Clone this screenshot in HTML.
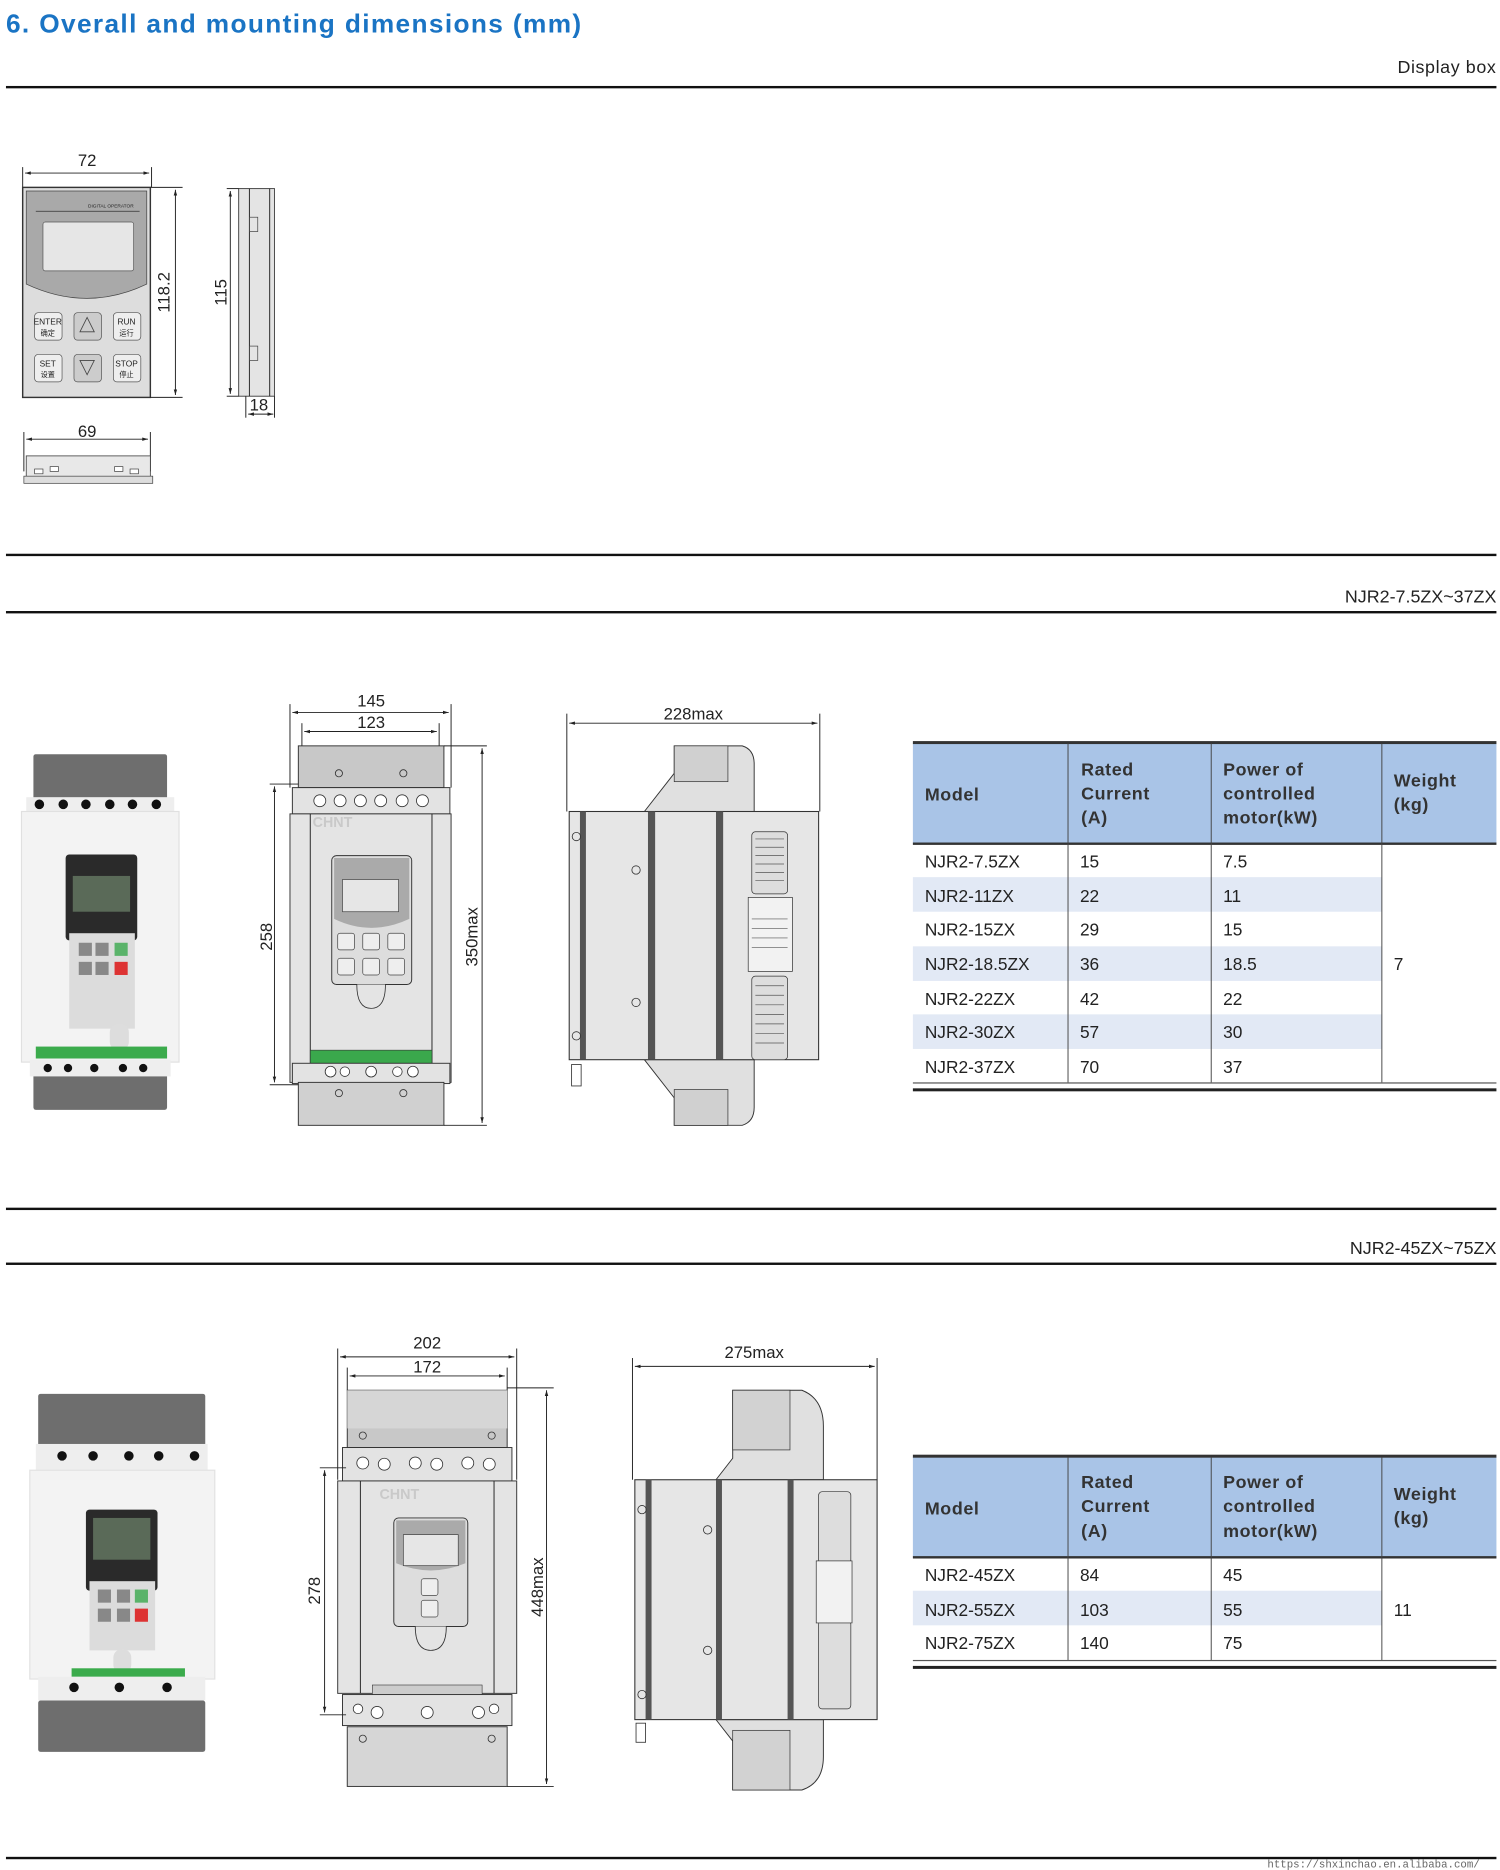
<!DOCTYPE html>
<html><head><meta charset="utf-8"><style>
html,body{margin:0;padding:0;background:#fff;}
svg{display:block;}
text{font-family:"Liberation Sans","Noto Sans CJK SC",sans-serif;}
.d{font-size:14px;fill:#222;}
.t{font-size:14.5px;fill:#222;}
.h{font-size:15px;font-weight:bold;fill:#333;letter-spacing:0.5px;}
.ln{stroke:#222;stroke-width:0.8;fill:none;}
.th{stroke:#444;stroke-width:0.8;}
</style></head><body>
<svg width="1500" height="1870" viewBox="0 0 1257 1567" xmlns="http://www.w3.org/2000/svg">
<defs>
<marker id="a" viewBox="0 0 10 10" refX="10" refY="5" markerWidth="6" markerHeight="6" orient="auto-start-reverse"><path d="M0,2 L10,5 L0,8z" fill="#222"/></marker>
</defs>
<!-- header -->
<text x="5" y="27" style="font-size:22px;font-weight:bold;fill:#1a74c4" textLength="482">6. Overall and mounting dimensions (mm)</text>
<text x="1254" y="61" text-anchor="end" style="font-size:15px;fill:#222;letter-spacing:0.5px">Display box</text>
<rect x="5" y="72" width="1249" height="2" fill="#111"/>
<rect x="5" y="464" width="1249" height="2" fill="#111"/>
<text x="1254" y="505" text-anchor="end" style="font-size:15px;fill:#222">NJR2-7.5ZX~37ZX</text>
<rect x="5" y="512" width="1249" height="2" fill="#111"/>
<rect x="5" y="1012" width="1249" height="2" fill="#111"/>
<text x="1254" y="1051" text-anchor="end" style="font-size:15px;fill:#222">NJR2-45ZX~75ZX</text>
<rect x="5" y="1058" width="1249" height="2" fill="#111"/>
<rect x="5" y="1556" width="1249" height="2" fill="#111"/>
<text x="1240" y="1565" text-anchor="end" style="font-size:9px;fill:#666;font-family:'Liberation Mono',monospace">https://shxinchao.en.alibaba.com/</text>

<!-- Display box front -->
<line class="ln" x1="21" y1="145" x2="125" y2="145" marker-start="url(#a)" marker-end="url(#a)"/>
<line class="ln" x1="19" y1="140" x2="19" y2="157"/><line class="ln" x1="127" y1="140" x2="127" y2="157"/>
<text class="d" x="73" y="139" text-anchor="middle">72</text>
<rect x="19" y="157" width="107" height="176" fill="#ddd" stroke="#333" stroke-width="1.2"/>
<path d="M22,160 H123 V238 Q73,262 22,238 Z" fill="#a9a9a9" stroke="#444" stroke-width="0.6"/>
<line x1="30" y1="177" x2="117" y2="177" stroke="#333" stroke-width="0.6"/>
<text x="112" y="174" text-anchor="end" style="font-size:4px;fill:#222">DIGITAL OPERATOR</text>
<rect x="36" y="186" width="76" height="41" rx="2" fill="#e6e6e6" stroke="#555" stroke-width="0.6"/>
<g fill="#eee" stroke="#555" stroke-width="0.6">
<rect x="29" y="262" width="23" height="23" rx="3"/><rect x="62" y="262" width="23" height="23" rx="3" fill="#ccc"/><rect x="95" y="262" width="23" height="23" rx="3"/>
<rect x="29" y="297" width="23" height="23" rx="3"/><rect x="62" y="297" width="23" height="23" rx="3" fill="#ccc"/><rect x="95" y="297" width="23" height="23" rx="3"/>
</g>
<text x="40" y="272" text-anchor="middle" style="font-size:7px;fill:#222">ENTER</text><text x="40" y="281" text-anchor="middle" style="font-size:6px;fill:#222">确定</text>
<text x="106" y="272" text-anchor="middle" style="font-size:7px;fill:#222">RUN</text><text x="106" y="281" text-anchor="middle" style="font-size:6px;fill:#222">运行</text>
<text x="40" y="307" text-anchor="middle" style="font-size:7px;fill:#222">SET</text><text x="40" y="316" text-anchor="middle" style="font-size:6px;fill:#222">设置</text>
<text x="106" y="307" text-anchor="middle" style="font-size:7px;fill:#222">STOP</text><text x="106" y="316" text-anchor="middle" style="font-size:6px;fill:#222">停止</text>
<path d="M73,266 L79,278 L67,278Z M67,302 L79,302 L73,314Z" fill="none" stroke="#444" stroke-width="0.7"/>
<line class="ln" x1="147" y1="159" x2="147" y2="331" marker-start="url(#a)" marker-end="url(#a)"/>
<line class="ln" x1="126" y1="157" x2="153" y2="157"/><line class="ln" x1="126" y1="333" x2="153" y2="333"/>
<text class="d" transform="translate(142,245) rotate(-90)" text-anchor="middle">118.2</text>
<!-- side -->
<rect x="200" y="158" width="30" height="174" fill="#e4e4e4" stroke="#444" stroke-width="0.8"/>
<line class="ln" x1="209" y1="158" x2="209" y2="332"/><line class="ln" x1="226" y1="158" x2="226" y2="332"/>
<rect x="209" y="182" width="7" height="12" fill="none" stroke="#444" stroke-width="0.6"/>
<rect x="209" y="290" width="7" height="12" fill="none" stroke="#444" stroke-width="0.6"/>
<line class="ln" x1="193" y1="160" x2="193" y2="330" marker-start="url(#a)" marker-end="url(#a)"/>
<line class="ln" x1="190" y1="158" x2="200" y2="158"/><line class="ln" x1="190" y1="332" x2="200" y2="332"/>
<text class="d" transform="translate(190,245) rotate(-90)" text-anchor="middle">115</text>
<line class="ln" x1="208" y1="347" x2="229" y2="347" marker-start="url(#a)" marker-end="url(#a)"/>
<line class="ln" x1="206" y1="332" x2="206" y2="350"/><line class="ln" x1="230" y1="332" x2="230" y2="350"/>
<text class="d" x="217" y="344" text-anchor="middle">18</text>
<!-- bottom -->
<line class="ln" x1="22" y1="368" x2="124" y2="368" marker-start="url(#a)" marker-end="url(#a)"/>
<line class="ln" x1="20" y1="362" x2="20" y2="395"/><line class="ln" x1="126" y1="362" x2="126" y2="395"/>
<text class="d" x="73" y="366" text-anchor="middle">69</text>
<rect x="22" y="382" width="104" height="22" fill="#e8e8e8" stroke="#444" stroke-width="0.7"/>
<rect x="20" y="399" width="108" height="6" fill="#ddd" stroke="#444" stroke-width="0.6"/>
<g fill="#fff" stroke="#444" stroke-width="0.6"><rect x="29" y="393" width="7" height="4"/><rect x="42" y="391" width="7" height="4"/><rect x="96" y="391" width="7" height="4"/><rect x="109" y="393" width="7" height="4"/></g>

<!-- ===== section 2 photo ===== -->
<rect x="28" y="632" width="112" height="38" fill="#6e6e6e" rx="2"/>
<rect x="22" y="668" width="124" height="14" fill="#eee"/>
<g fill="#111"><circle cx="33" cy="674" r="4"/><circle cx="53" cy="674" r="4"/><circle cx="72" cy="674" r="4"/><circle cx="92" cy="674" r="4"/><circle cx="111" cy="674" r="4"/><circle cx="131" cy="674" r="4"/></g>
<rect x="18" y="680" width="132" height="210" fill="#f3f3f3" stroke="#e0e0e0"/>
<rect x="55" y="716" width="60" height="72" rx="3" fill="#2a2a2a"/>
<rect x="61" y="734" width="48" height="30" fill="#5a6a58"/>
<rect x="58" y="782" width="55" height="80" fill="#dcdcdc"/>
<g fill="#888"><rect x="66" y="790" width="11" height="11"/><rect x="80" y="790" width="11" height="11"/><rect x="66" y="806" width="11" height="11"/><rect x="80" y="806" width="11" height="11"/></g>
<rect x="96" y="790" width="11" height="11" fill="#5ab36a"/><rect x="96" y="806" width="11" height="11" fill="#d33"/>
<rect x="92" y="858" width="16" height="22" rx="7" fill="#ddd"/>
<rect x="30" y="877" width="110" height="10" fill="#3bab4c"/>
<rect x="28" y="900" width="112" height="30" fill="#6e6e6e" rx="2"/>
<rect x="25" y="888" width="118" height="14" fill="#eee"/>
<g fill="#111"><circle cx="40" cy="895" r="3.5"/><circle cx="57" cy="895" r="3.5"/><circle cx="79" cy="895" r="3.5"/><circle cx="103" cy="895" r="3.5"/><circle cx="120" cy="895" r="3.5"/></g>

<!-- section 2 front drawing -->
<line class="ln" x1="245" y1="597" x2="376" y2="597" marker-start="url(#a)" marker-end="url(#a)"/>
<line class="ln" x1="255" y1="613" x2="366" y2="613" marker-start="url(#a)" marker-end="url(#a)"/>
<line class="ln" x1="243" y1="590" x2="243" y2="660"/><line class="ln" x1="378" y1="590" x2="378" y2="660"/>
<line class="ln" x1="253" y1="606" x2="253" y2="625"/><line class="ln" x1="368" y1="606" x2="368" y2="625"/>
<text class="d" x="311" y="592" text-anchor="middle">145</text>
<text class="d" x="311" y="610" text-anchor="middle">123</text>
<rect x="250" y="625" width="122" height="35" fill="#c8c8c8" stroke="#333" stroke-width="0.8"/>
<circle cx="284" cy="648" r="3" fill="none" stroke="#333" stroke-width="0.7"/><circle cx="338" cy="648" r="3" fill="none" stroke="#333" stroke-width="0.7"/>
<rect x="245" y="660" width="132" height="22" fill="#e3e3e3" stroke="#333" stroke-width="0.8"/>
<g fill="#fff" stroke="#333" stroke-width="0.7"><circle cx="268" cy="671" r="5"/><circle cx="285" cy="671" r="5"/><circle cx="302" cy="671" r="5"/><circle cx="319" cy="671" r="5"/><circle cx="337" cy="671" r="5"/><circle cx="354" cy="671" r="5"/></g>
<rect x="243" y="682" width="135" height="225" fill="#e4e4e4" stroke="#333" stroke-width="0.8"/>
<line class="ln" x1="260" y1="682" x2="260" y2="907"/><line class="ln" x1="362" y1="682" x2="362" y2="907"/>
<text x="262" y="693" style="font-size:12px;font-weight:bold;fill:#c9c9c9">CHNT</text>
<rect x="278" y="717" width="67" height="108" rx="4" fill="#ddd" stroke="#333" stroke-width="0.8"/>
<path d="M280,719 H343 V770 Q311,785 280,770Z" fill="#aaa"/>
<rect x="287" y="737" width="47" height="27" fill="#e6e6e6" stroke="#444" stroke-width="0.6"/>
<g fill="#eee" stroke="#444" stroke-width="0.6"><rect x="283" y="782" width="14" height="14" rx="2"/><rect x="304" y="782" width="14" height="14" rx="2"/><rect x="325" y="782" width="14" height="14" rx="2"/><rect x="283" y="803" width="14" height="14" rx="2"/><rect x="304" y="803" width="14" height="14" rx="2"/><rect x="325" y="803" width="14" height="14" rx="2"/></g>
<path d="M299,825 Q299,845 311,845 Q323,845 323,825" fill="#e4e4e4" stroke="#333" stroke-width="0.7"/>
<rect x="260" y="880" width="102" height="11" fill="#3aa84c" stroke="#333" stroke-width="0.5"/>
<rect x="245" y="891" width="132" height="17" fill="#e3e3e3" stroke="#333" stroke-width="0.8"/>
<g fill="#fff" stroke="#333" stroke-width="0.7"><circle cx="277" cy="898" r="4.5"/><circle cx="289" cy="898" r="4"/><circle cx="311" cy="898" r="4.5"/><circle cx="333" cy="898" r="4"/><circle cx="346" cy="898" r="4.5"/></g>
<rect x="250" y="907" width="122" height="36" fill="#d0d0d0" stroke="#333" stroke-width="0.8"/>
<circle cx="284" cy="916" r="3" fill="none" stroke="#333" stroke-width="0.7"/><circle cx="338" cy="916" r="3" fill="none" stroke="#333" stroke-width="0.7"/>
<line class="ln" x1="230" y1="659" x2="230" y2="907" marker-start="url(#a)" marker-end="url(#a)"/>
<line class="ln" x1="226" y1="657" x2="250" y2="657"/><line class="ln" x1="226" y1="909" x2="250" y2="909"/>
<text class="d" transform="translate(228,785) rotate(-90)" text-anchor="middle">258</text>
<line class="ln" x1="404" y1="627" x2="404" y2="941" marker-start="url(#a)" marker-end="url(#a)"/>
<line class="ln" x1="372" y1="625" x2="408" y2="625"/><line class="ln" x1="372" y1="943" x2="408" y2="943"/>
<text class="d" transform="translate(400,785) rotate(-90)" text-anchor="middle">350max</text>

<!-- section 2 side drawing -->
<line class="ln" x1="477" y1="606" x2="685" y2="606" marker-start="url(#a)" marker-end="url(#a)"/>
<line class="ln" x1="475" y1="598" x2="475" y2="680"/><line class="ln" x1="687" y1="598" x2="687" y2="680"/>
<text class="d" x="581" y="603" text-anchor="middle">228max</text>
<path d="M540,680 L565,648 V625 H622 Q632,628 632,640 V680 Z" fill="#e0e0e0" stroke="#333" stroke-width="0.8"/>
<path d="M540,888 L565,920 V943 H622 Q632,940 632,928 V888 Z" fill="#e0e0e0" stroke="#333" stroke-width="0.8"/>
<rect x="565" y="625" width="45" height="30" fill="#d0d0d0" stroke="#333" stroke-width="0.6"/>
<rect x="565" y="913" width="45" height="30" fill="#d0d0d0" stroke="#333" stroke-width="0.6"/>
<rect x="477" y="680" width="209" height="208" fill="#e6e6e6" stroke="#333" stroke-width="0.9"/>
<rect x="486" y="680" width="5" height="208" fill="#555"/>
<rect x="543" y="680" width="6" height="208" fill="#555"/>
<rect x="600" y="680" width="6" height="208" fill="#555"/>
<rect x="630" y="697" width="30" height="52" rx="3" fill="#ddd" stroke="#333" stroke-width="0.6"/>
<rect x="630" y="818" width="30" height="70" rx="3" fill="#ddd" stroke="#333" stroke-width="0.6"/>
<g stroke="#555" stroke-width="0.6"><line x1="633" y1="703" x2="657" y2="703"/><line x1="633" y1="710" x2="657" y2="710"/><line x1="633" y1="717" x2="657" y2="717"/><line x1="633" y1="724" x2="657" y2="724"/><line x1="633" y1="731" x2="657" y2="731"/><line x1="633" y1="738" x2="657" y2="738"/><line x1="633" y1="826" x2="657" y2="826"/><line x1="633" y1="834" x2="657" y2="834"/><line x1="633" y1="842" x2="657" y2="842"/><line x1="633" y1="850" x2="657" y2="850"/><line x1="633" y1="858" x2="657" y2="858"/><line x1="633" y1="866" x2="657" y2="866"/><line x1="633" y1="874" x2="657" y2="874"/></g>
<rect x="627" y="752" width="37" height="62" fill="#f2f2f2" stroke="#333" stroke-width="0.6"/>
<g stroke="#555" stroke-width="0.5"><line x1="630" y1="770" x2="660" y2="770"/><line x1="630" y1="778" x2="660" y2="778"/><line x1="630" y1="786" x2="660" y2="786"/><line x1="630" y1="794" x2="660" y2="794"/></g>
<g fill="none" stroke="#333" stroke-width="0.7"><circle cx="483" cy="701" r="3.5"/><circle cx="483" cy="868" r="3.5"/><circle cx="533" cy="729" r="3.5"/><circle cx="533" cy="840" r="3.5"/></g>
<rect x="479" y="892" width="8" height="18" fill="none" stroke="#333" stroke-width="0.7"/>

<!-- table 1 -->
<rect x="765" y="623" width="489" height="84" fill="#a9c4e7"/>
<rect x="765" y="735" width="393" height="29" fill="#e2e9f5"/>
<rect x="765" y="793" width="393" height="29" fill="#e2e9f5"/>
<rect x="765" y="850" width="393" height="29" fill="#e2e9f5"/>
<rect x="765" y="621" width="489" height="2.5" fill="#333"/>
<rect x="765" y="706" width="489" height="2" fill="#333"/>
<g class="th"><line x1="895" y1="623" x2="895" y2="907"/><line x1="1015" y1="623" x2="1015" y2="907"/><line x1="1158" y1="623" x2="1158" y2="907"/></g>
<rect x="765" y="907" width="489" height="1" fill="#555"/>
<rect x="765" y="912" width="489" height="2.5" fill="#222"/>
<text class="h" x="775" y="671">Model</text>
<text class="h" x="906" y="650">Rated</text><text class="h" x="906" y="670">Current</text><text class="h" x="906" y="690">(A)</text>
<text class="h" x="1025" y="650">Power of</text><text class="h" x="1025" y="670">controlled</text><text class="h" x="1025" y="690">motor(kW)</text>
<text class="h" x="1168" y="659">Weight</text><text class="h" x="1168" y="679">(kg)</text>
<g class="t">
<text x="775" y="727">NJR2-7.5ZX</text><text x="905" y="727">15</text><text x="1025" y="727">7.5</text>
<text x="775" y="756">NJR2-11ZX</text><text x="905" y="756">22</text><text x="1025" y="756">11</text>
<text x="775" y="784">NJR2-15ZX</text><text x="905" y="784">29</text><text x="1025" y="784">15</text>
<text x="775" y="813">NJR2-18.5ZX</text><text x="905" y="813">36</text><text x="1025" y="813">18.5</text><text x="1168" y="813">7</text>
<text x="775" y="842">NJR2-22ZX</text><text x="905" y="842">42</text><text x="1025" y="842">22</text>
<text x="775" y="870">NJR2-30ZX</text><text x="905" y="870">57</text><text x="1025" y="870">30</text>
<text x="775" y="899">NJR2-37ZX</text><text x="905" y="899">70</text><text x="1025" y="899">37</text>
</g>

<!-- ===== section 3 photo ===== -->
<rect x="32" y="1168" width="140" height="44" fill="#6e6e6e" rx="2"/>
<rect x="30" y="1210" width="144" height="22" fill="#eee"/>
<g fill="#111"><circle cx="52" cy="1220" r="4"/><circle cx="78" cy="1220" r="4"/><circle cx="108" cy="1220" r="4"/><circle cx="133" cy="1220" r="4"/><circle cx="163" cy="1220" r="4"/><circle cx="189" cy="1220" r="0"/></g>
<rect x="25" y="1232" width="155" height="175" fill="#f3f3f3" stroke="#e2e2e2"/>
<rect x="72" y="1265" width="60" height="68" rx="3" fill="#2a2a2a"/>
<rect x="78" y="1272" width="48" height="35" fill="#5a6a58"/>
<rect x="75" y="1325" width="55" height="58" fill="#dcdcdc"/>
<g fill="#888"><rect x="82" y="1332" width="11" height="11"/><rect x="98" y="1332" width="11" height="11"/><rect x="82" y="1348" width="11" height="11"/><rect x="98" y="1348" width="11" height="11"/></g>
<rect x="113" y="1332" width="11" height="11" fill="#5ab36a"/><rect x="113" y="1348" width="11" height="11" fill="#d33"/>
<rect x="95" y="1382" width="15" height="20" rx="7" fill="#ddd"/>
<rect x="60" y="1398" width="95" height="10" fill="#3bab4c"/>
<rect x="32" y="1405" width="140" height="20" fill="#eee"/>
<g fill="#111"><circle cx="62" cy="1414" r="4"/><circle cx="100" cy="1414" r="4"/><circle cx="140" cy="1414" r="4"/></g>
<rect x="32" y="1425" width="140" height="43" fill="#6e6e6e" rx="2"/>

<!-- section 3 front drawing -->
<line class="ln" x1="285" y1="1137" x2="431" y2="1137" marker-start="url(#a)" marker-end="url(#a)"/>
<line class="ln" x1="293" y1="1153" x2="423" y2="1153" marker-start="url(#a)" marker-end="url(#a)"/>
<line class="ln" x1="283" y1="1130" x2="283" y2="1240"/><line class="ln" x1="433" y1="1130" x2="433" y2="1240"/>
<line class="ln" x1="291" y1="1146" x2="291" y2="1165"/><line class="ln" x1="425" y1="1146" x2="425" y2="1165"/>
<text class="d" x="358" y="1130" text-anchor="middle">202</text>
<text class="d" x="358" y="1150" text-anchor="middle">172</text>
<rect x="291" y="1165" width="134" height="48" fill="#c8c8c8" stroke="#333" stroke-width="0.8"/>
<rect x="291" y="1165" width="134" height="32" fill="#d6d6d6"/>
<circle cx="304" cy="1203" r="3" fill="none" stroke="#333" stroke-width="0.7"/><circle cx="412" cy="1203" r="3" fill="none" stroke="#333" stroke-width="0.7"/>
<rect x="287" y="1213" width="142" height="28" fill="#e3e3e3" stroke="#333" stroke-width="0.8"/>
<g fill="#fff" stroke="#333" stroke-width="0.7"><circle cx="304" cy="1226" r="5"/><circle cx="322" cy="1227" r="5"/><circle cx="348" cy="1226" r="5"/><circle cx="366" cy="1227" r="5"/><circle cx="392" cy="1226" r="5"/><circle cx="410" cy="1227" r="5"/></g>
<rect x="283" y="1241" width="150" height="178" fill="#e4e4e4" stroke="#333" stroke-width="0.8"/>
<line class="ln" x1="302" y1="1241" x2="302" y2="1419"/><line class="ln" x1="414" y1="1241" x2="414" y2="1419"/>
<text x="318" y="1256" style="font-size:12px;font-weight:bold;fill:#c9c9c9">CHNT</text>
<rect x="330" y="1272" width="62" height="91" rx="4" fill="#ddd" stroke="#333" stroke-width="0.8"/>
<path d="M332,1274 H390 V1310 Q361,1322 332,1310Z" fill="#aaa"/>
<rect x="338" y="1286" width="46" height="26" fill="#e6e6e6" stroke="#444" stroke-width="0.6"/>
<g fill="#eee" stroke="#444" stroke-width="0.6"><rect x="353" y="1323" width="14" height="14" rx="2"/><rect x="353" y="1341" width="14" height="14" rx="2"/></g>
<path d="M348,1363 Q348,1383 361,1383 Q374,1383 374,1363" fill="#e4e4e4" stroke="#333" stroke-width="0.7"/>
<rect x="312" y="1412" width="92" height="10" fill="#ccc" stroke="#333" stroke-width="0.5"/>
<rect x="287" y="1420" width="142" height="26" fill="#e3e3e3" stroke="#333" stroke-width="0.8"/>
<g fill="#fff" stroke="#333" stroke-width="0.7"><circle cx="300" cy="1432" r="4"/><circle cx="316" cy="1435" r="5"/><circle cx="358" cy="1435" r="5"/><circle cx="401" cy="1435" r="5"/><circle cx="414" cy="1432" r="4"/></g>
<rect x="291" y="1447" width="134" height="50" fill="#d6d6d6" stroke="#333" stroke-width="0.8"/>
<circle cx="304" cy="1457" r="3" fill="none" stroke="#333" stroke-width="0.7"/><circle cx="412" cy="1457" r="3" fill="none" stroke="#333" stroke-width="0.7"/>
<line class="ln" x1="272" y1="1232" x2="272" y2="1435" marker-start="url(#a)" marker-end="url(#a)"/>
<line class="ln" x1="268" y1="1230" x2="290" y2="1230"/><line class="ln" x1="268" y1="1437" x2="290" y2="1437"/>
<text class="d" transform="translate(268,1333) rotate(-90)" text-anchor="middle">278</text>
<line class="ln" x1="458" y1="1165" x2="458" y2="1495" marker-start="url(#a)" marker-end="url(#a)"/>
<line class="ln" x1="425" y1="1163" x2="464" y2="1163"/><line class="ln" x1="425" y1="1497" x2="464" y2="1497"/>
<text class="d" transform="translate(455,1330) rotate(-90)" text-anchor="middle">448max</text>

<!-- section 3 side drawing -->
<line class="ln" x1="532" y1="1145" x2="733" y2="1145" marker-start="url(#a)" marker-end="url(#a)"/>
<line class="ln" x1="530" y1="1138" x2="530" y2="1240"/><line class="ln" x1="735" y1="1138" x2="735" y2="1240"/>
<text class="d" x="632" y="1138" text-anchor="middle">275max</text>
<path d="M600,1240 L614,1222 V1165 H672 Q690,1172 690,1195 V1240 Z" fill="#e0e0e0" stroke="#333" stroke-width="0.8"/>
<path d="M600,1441 L614,1459 V1500 H672 Q690,1494 690,1472 V1441 Z" fill="#e0e0e0" stroke="#333" stroke-width="0.8"/>
<rect x="614" y="1165" width="48" height="50" fill="#d2d2d2" stroke="#333" stroke-width="0.6"/>
<rect x="614" y="1450" width="48" height="50" fill="#d2d2d2" stroke="#333" stroke-width="0.6"/>
<rect x="532" y="1240" width="203" height="201" fill="#e6e6e6" stroke="#333" stroke-width="0.9"/>
<rect x="541" y="1240" width="5" height="201" fill="#555"/>
<rect x="600" y="1240" width="5" height="201" fill="#555"/>
<rect x="660" y="1240" width="5" height="201" fill="#555"/>
<rect x="686" y="1250" width="27" height="60" rx="3" fill="#ddd" stroke="#333" stroke-width="0.6"/>
<rect x="686" y="1358" width="27" height="74" rx="3" fill="#ddd" stroke="#333" stroke-width="0.6"/>
<rect x="684" y="1308" width="30" height="52" fill="#f2f2f2" stroke="#333" stroke-width="0.6"/>
<g fill="none" stroke="#333" stroke-width="0.7"><circle cx="538" cy="1265" r="3.5"/><circle cx="538" cy="1420" r="3.5"/><circle cx="593" cy="1282" r="3.5"/><circle cx="593" cy="1383" r="3.5"/></g>
<rect x="533" y="1444" width="8" height="16" fill="none" stroke="#333" stroke-width="0.7"/>

<!-- table 2 -->
<rect x="765" y="1221" width="489" height="84" fill="#a9c4e7"/>
<rect x="765" y="1333" width="393" height="29" fill="#e2e9f5"/>
<rect x="765" y="1219" width="489" height="2.5" fill="#333"/>
<rect x="765" y="1304" width="489" height="2" fill="#333"/>
<g class="th"><line x1="895" y1="1221" x2="895" y2="1391"/><line x1="1015" y1="1221" x2="1015" y2="1391"/><line x1="1158" y1="1221" x2="1158" y2="1391"/></g>
<rect x="765" y="1391" width="489" height="1" fill="#555"/>
<rect x="765" y="1396" width="489" height="2.5" fill="#222"/>
<text class="h" x="775" y="1269">Model</text>
<text class="h" x="906" y="1247">Rated</text><text class="h" x="906" y="1267">Current</text><text class="h" x="906" y="1288">(A)</text>
<text class="h" x="1025" y="1247">Power of</text><text class="h" x="1025" y="1267">controlled</text><text class="h" x="1025" y="1288">motor(kW)</text>
<text class="h" x="1168" y="1257">Weight</text><text class="h" x="1168" y="1277">(kg)</text>
<g class="t">
<text x="775" y="1325">NJR2-45ZX</text><text x="905" y="1325">84</text><text x="1025" y="1325">45</text>
<text x="775" y="1354">NJR2-55ZX</text><text x="905" y="1354">103</text><text x="1025" y="1354">55</text><text x="1168" y="1354">11</text>
<text x="775" y="1382">NJR2-75ZX</text><text x="905" y="1382">140</text><text x="1025" y="1382">75</text>
</g>
</svg>
</body></html>
